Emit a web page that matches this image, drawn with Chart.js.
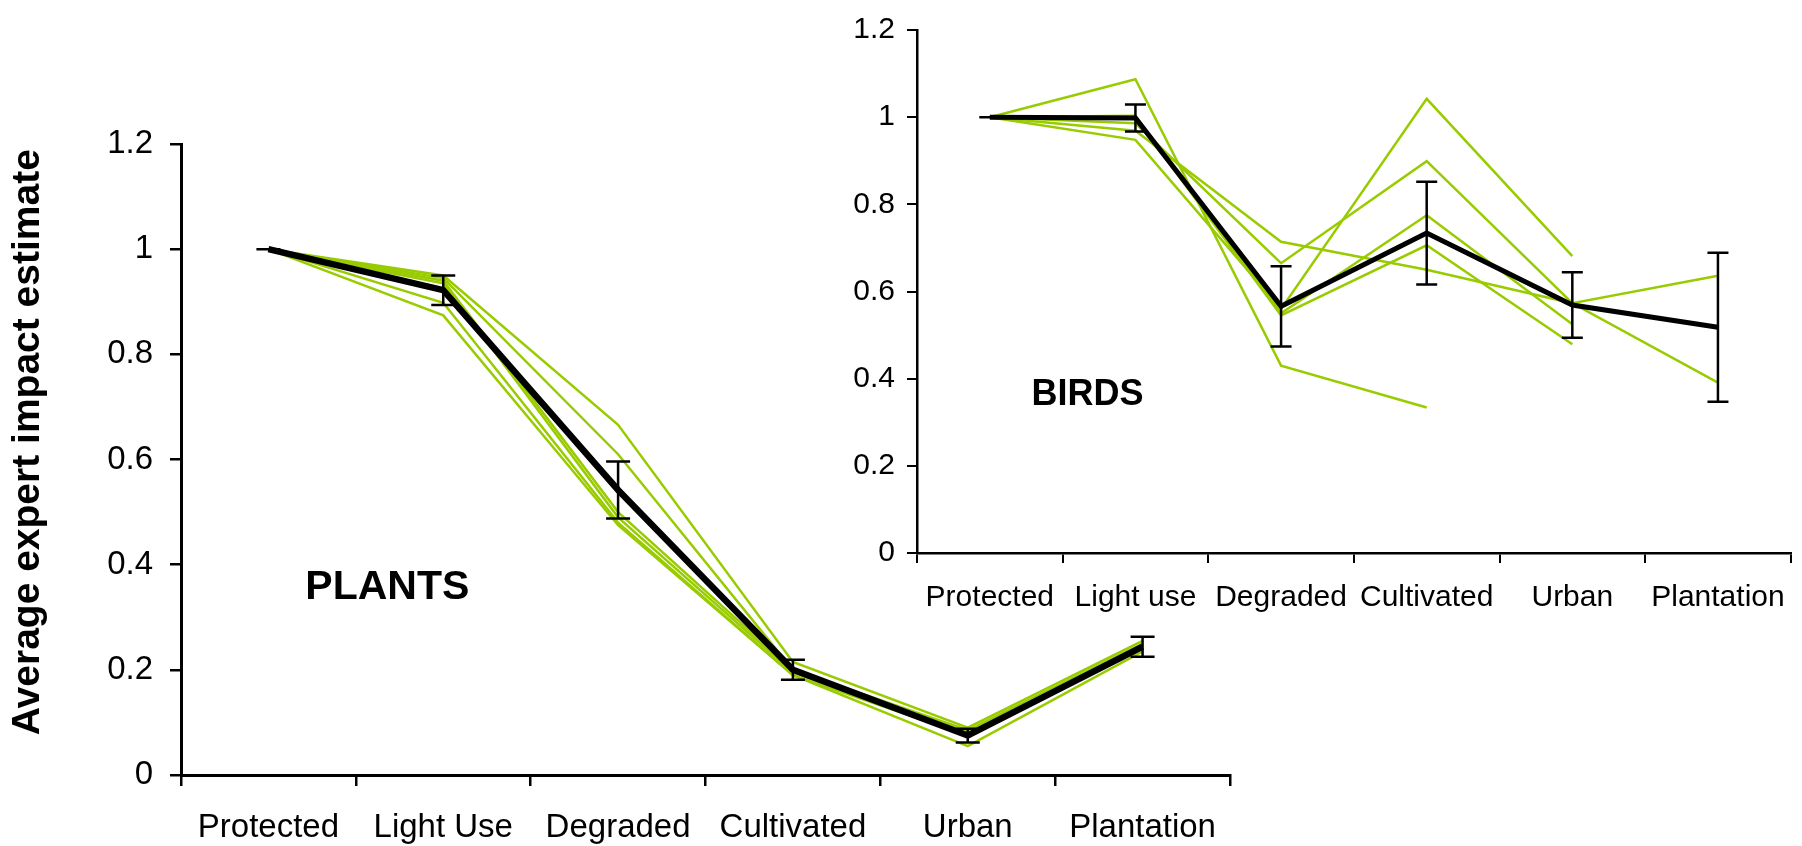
<!DOCTYPE html>
<html>
<head>
<meta charset="utf-8">
<script src="https://cdn.jsdelivr.net/npm/chart.js@4.4.1/dist/chart.umd.min.js"></script>
<style>
  html, body { margin: 0; padding: 0; background: #fff; }
  #wrap { position: relative; width: 1802px; height: 846px; }
  #wrap canvas { position: absolute; left: 0; top: 0; }
</style>
</head>
<body>
<div id="wrap">
  <canvas id="plants" width="1802" height="846"></canvas>
  <canvas id="birds" width="1802" height="846"></canvas>
</div>
<script>
// --- data ---
const plantCategories = ['Protected', 'Light Use', 'Degraded', 'Cultivated', 'Urban', 'Plantation'];
const birdCategories = ['Protected', 'Light use', 'Degraded', 'Cultivated', 'Urban', 'Plantation'];
const yTickLabels = ['0', '0.2', '0.4', '0.6', '0.8', '1', '1.2'];

// individual expert lines (plants)
const plantExperts = [
    [1, 0.950, 0.666, 0.215, 0.090, 0.255],
    [1, 0.945, 0.610, 0.200, 0.085, 0.250],
    [1, 0.940, 0.500, 0.200, 0.080, 0.245],
    [1, 0.935, 0.490, 0.195, 0.080, 0.245],
    [1, 0.898, 0.480, 0.190, 0.075, 0.240],
    [1, 0.874, 0.475, 0.190, 0.055, 0.235]
];
const plantMean = [1, 0.922, 0.542, 0.200, 0.075, 0.244];
const plantErr = [0, 0.028, 0.054, 0.019, 0.013, 0.019];

// individual expert lines (birds)
const birdExperts = [
    [1, 1.087, 0.430, 0.334, null, null],
    [1, 0.948, 0.560, 1.042, 0.681, null],
    [1, 0.986, 0.665, 0.899, 0.573, 0.636],
    [1, 1.003, 0.550, 0.775, 0.525, null],
    [1, 1.000, 0.545, 0.706, 0.479, null],
    [1, 0.969, 0.714, 0.650, 0.573, 0.391]
];
const birdMean = [1, 0.998, 0.566, 0.734, 0.569, 0.518];
const birdErr = [0, 0.031, 0.092, 0.118, 0.075, 0.171];

const GREEN = '#99cc00';
const FONT = "'Liberation Sans', Arial, sans-serif";

// error bars drawn on top of the mean line
function errorBars(means, errs, cap, width) {
    return {
        id: 'errorBars',
        afterDatasetsDraw(chart) {
            const { ctx, scales: { x, y } } = chart;
            ctx.save();
            ctx.strokeStyle = '#000';
            ctx.lineWidth = width;
            means.forEach((m, i) => {
                const px = x.getPixelForValue(i);
                const top = y.getPixelForValue(m + errs[i]);
                const bot = y.getPixelForValue(m - errs[i]);
                ctx.beginPath();
                ctx.moveTo(px, top); ctx.lineTo(px, bot);
                ctx.moveTo(px - cap, top); ctx.lineTo(px + cap, top);
                ctx.moveTo(px - cap, bot); ctx.lineTo(px + cap, bot);
                ctx.stroke();
            });
            ctx.restore();
        }
    };
}

// panel label placed in data space
function panelLabel(text, xVal, yVal, font) {
    return {
        id: 'panelLabel',
        afterDraw(chart) {
            const { ctx, scales: { x, y } } = chart;
            ctx.save();
            ctx.font = font;
            ctx.fillStyle = '#000';
            ctx.textAlign = 'center';
            ctx.textBaseline = 'middle';
            ctx.fillText(text, x.getPixelForValue(xVal), y.getPixelForValue(yVal));
            ctx.restore();
        }
    };
}

const yTitle = {
    id: 'yTitle',
    afterDraw(chart) {
        const { ctx, scales: { y } } = chart;
        ctx.save();
        ctx.translate(chart.chartArea.left - 153, y.getPixelForValue(0.633));
        ctx.rotate(-Math.PI / 2);
        ctx.font = 'bold 39px ' + FONT;
        ctx.fillStyle = '#000';
        ctx.textAlign = 'center';
        ctx.textBaseline = 'middle';
        ctx.fillText('Average expert impact estimate', 0, 0);
        ctx.restore();
    }
};

function buildChart(canvasId, cfg) {
    const datasets = cfg.experts.map(vals => ({
        data: vals,
        borderColor: GREEN,
        borderWidth: cfg.greenWidth,
        pointRadius: 0,
        spanGaps: false,
        order: 2
    }));
    datasets.push({
        data: cfg.mean,
        borderColor: '#000',
        borderWidth: cfg.meanWidth,
        pointRadius: 0,
        order: 1
    });

    return new Chart(document.getElementById(canvasId), {
        type: 'line',
        data: { labels: cfg.labels, datasets: datasets },
        options: {
            responsive: false,
            animation: false,
            devicePixelRatio: 1,
            layout: { padding: cfg.padding },
            plugins: { legend: { display: false }, tooltip: { enabled: false } },
            scales: {
                x: {
                    type: 'category',
                    offset: true,
                    grid: { offset: true, drawOnChartArea: false, drawTicks: true, tickLength: cfg.tickLen, color: '#000', lineWidth: cfg.axisWidth - 0.5 },
                    border: { display: true, color: '#000', width: cfg.axisWidth },
                    ticks: { color: '#000', font: { family: FONT, size: cfg.xFont }, padding: cfg.xPad, maxRotation: 0, autoSkip: false },
                    afterFit: s => { s.height = cfg.xHeight; }
                },
                y: {
                    min: 0, max: 1.2,
                    grid: { drawOnChartArea: false, drawTicks: true, tickLength: cfg.tickLen, color: '#000', lineWidth: cfg.axisWidth - 0.5 },
                    border: { display: true, color: '#000', width: cfg.axisWidth },
                    ticks: { stepSize: 0.2, color: '#000', font: { family: FONT, size: cfg.yFont }, padding: cfg.yPad,
                             callback: (v, i) => yTickLabels[i] },
                    afterFit: s => { s.width = cfg.yWidth; }
                }
            }
        },
        plugins: cfg.plugins
    });
}

// PLANTS panel: plot area x 181..1230, y 144..775
buildChart('plants', {
    labels: plantCategories,
    experts: plantExperts,
    mean: plantMean,
    greenWidth: 2.5,
    meanWidth: 6.5,
    axisWidth: 3,
    tickLen: 11,
    xFont: 33, yFont: 33,
    xPad: 22, yPad: 17,
    xHeight: 71, yWidth: 181,
    padding: { left: 0, top: 144, right: 572, bottom: 0 },
    plugins: [errorBars(plantMean, plantErr, 12, 2.5), panelLabel('PLANTS', 0.68, 0.357, 'bold 41px ' + FONT), yTitle]
});

// BIRDS panel: plot area x 917..1798, y 24..553
buildChart('birds', {
    labels: birdCategories,
    experts: birdExperts,
    mean: birdMean,
    greenWidth: 2.5,
    meanWidth: 5,
    axisWidth: 2.5,
    tickLen: 10,
    xFont: 30, yFont: 30,
    xPad: 17, yPad: 12,
    xHeight: 70, yWidth: 100,
    padding: { left: 817, top: 24, right: 4, bottom: 223 },
    plugins: [errorBars(birdMean, birdErr, 10.5, 2.5), panelLabel('BIRDS', 0.67, 0.363, 'bold 36px ' + FONT)]
});
</script>
</body>
</html>
